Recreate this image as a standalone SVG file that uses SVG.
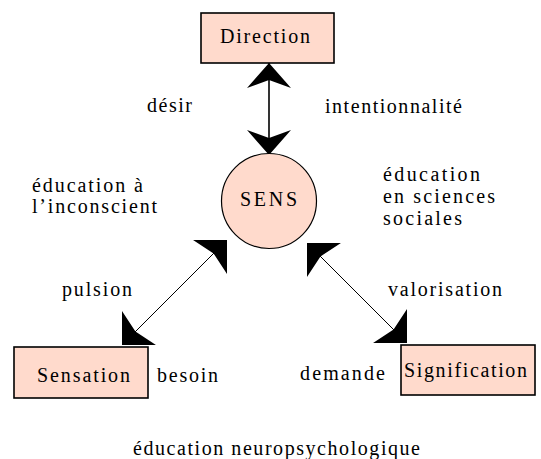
<svg xmlns="http://www.w3.org/2000/svg" width="541" height="459" viewBox="0 0 541 459">
<style>
  .box { fill: #FFDACC; stroke: #000; stroke-width: 1.6; }
  .circ { fill: #FFDACC; stroke: #000; stroke-width: 1.2; }
  text { font-family: "Liberation Serif", "Times New Roman", serif; font-size: 20px; fill: #000; }
  .ln { stroke: #000; fill: none; }
</style>
<defs>
  <marker id="hv" markerUnits="userSpaceOnUse" orient="auto-start-reverse" markerWidth="60" markerHeight="60" refX="30" refY="30" viewBox="0 0 60 60" overflow="visible">
    <polygon points="30,30 5,8 13,30 5,52" fill="#000"/>
  </marker>
  <marker id="hd" markerUnits="userSpaceOnUse" orient="auto-start-reverse" markerWidth="60" markerHeight="60" refX="30" refY="30" viewBox="0 0 60 60" overflow="visible">
    <polygon points="30,30 6,6 11,30 6,54" fill="#000"/>
  </marker>
</defs>

<g id="connectors">
  <line class="ln" x1="269" y1="155" x2="269" y2="63" stroke-width="1.6" marker-start="url(#hv)" marker-end="url(#hv)"/>
  <line class="ln" x1="122" y1="345" x2="227" y2="240" stroke-width="1" marker-start="url(#hd)" marker-end="url(#hd)"/>
  <line class="ln" x1="307" y1="243" x2="407" y2="343" stroke-width="1" marker-start="url(#hd)" marker-end="url(#hd)"/>
</g>

<g id="direction">
  <rect class="box" x="201" y="13" width="133" height="50"/>
  <text x="220" y="43" textLength="90" lengthAdjust="spacing">Direction</text>
</g>
<g id="sens">
  <circle class="circ" cx="269" cy="201" r="47.5"/>
  <text x="240" y="206" textLength="57" lengthAdjust="spacing">SENS</text>
</g>
<g id="sensation">
  <rect class="box" x="14" y="347" width="134" height="51"/>
  <text x="37" y="382" textLength="93" lengthAdjust="spacing">Sensation</text>
</g>
<g id="signification">
  <rect class="box" x="401" y="345" width="134" height="50"/>
  <text x="404" y="377" textLength="123" lengthAdjust="spacing">Signification</text>
</g>

<g id="labels">
  <text x="147" y="112" textLength="45" lengthAdjust="spacing">désir</text>
  <text x="325" y="113" textLength="137" lengthAdjust="spacing">intentionnalité</text>
  <text x="32" y="192" textLength="111" lengthAdjust="spacing">éducation à</text>
  <text x="32" y="213" textLength="125" lengthAdjust="spacing">l’inconscient</text>
  <text x="383" y="181" textLength="97" lengthAdjust="spacing">éducation</text>
  <text x="383" y="203" textLength="112" lengthAdjust="spacing">en sciences</text>
  <text x="383" y="225" textLength="79" lengthAdjust="spacing">sociales</text>
  <text x="62" y="296" textLength="70" lengthAdjust="spacing">pulsion</text>
  <text x="388" y="296" textLength="114" lengthAdjust="spacing">valorisation</text>
  <text x="157" y="382" textLength="61" lengthAdjust="spacing">besoin</text>
  <text x="300" y="380" textLength="85" lengthAdjust="spacing">demande</text>
  <text x="133" y="455" textLength="287" lengthAdjust="spacing">éducation neuropsychologique</text>
</g>
</svg>
